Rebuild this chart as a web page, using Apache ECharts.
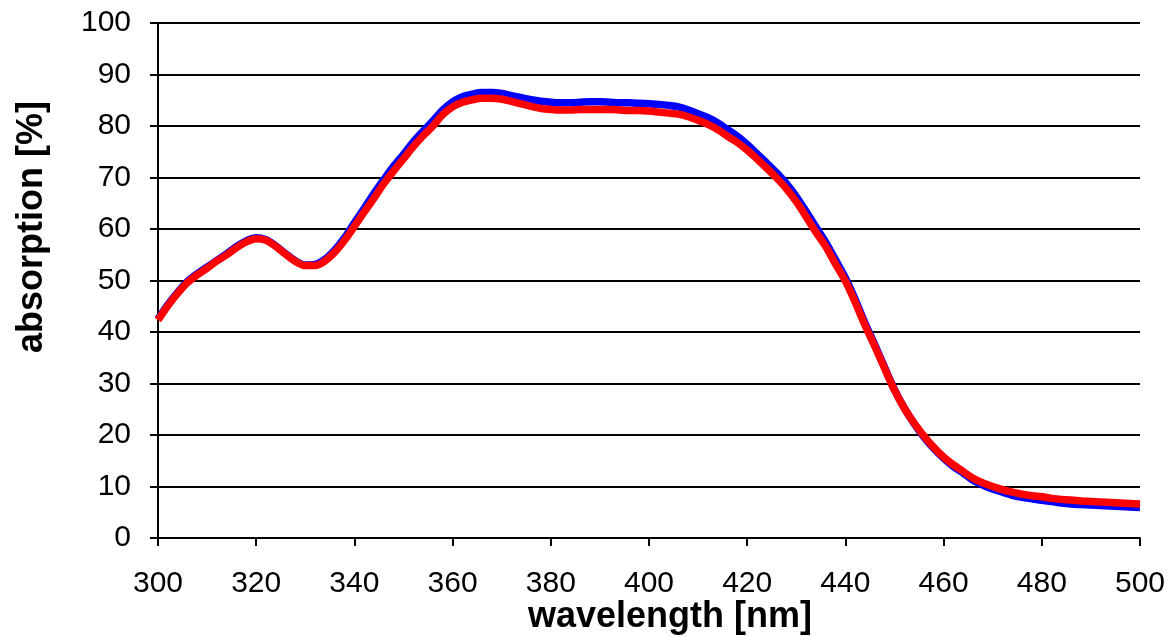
<!DOCTYPE html>
<html>
<head>
<meta charset="utf-8">
<script src="https://cdn.jsdelivr.net/npm/echarts@6/dist/echarts.min.js"></script>
<style>
  html, body { margin: 0; padding: 0; background: #fff; }
  #chart { width: 1170px; height: 637px; }
</style>
</head>
<body>
<div id="chart"></div>
<script>
// Wavelength grid [nm]
const wavelengths = [];
for (let w = 300; w <= 500; w += 2) wavelengths.push(w);

// Absorption [%] of the two measurements, one value per wavelength
const absorptionBlue = [
  42.5, 45.3, 47.7, 49.8, 51.3, 52.6, 53.9, 55.2, 56.6, 57.7,
  58.3, 57.9, 56.7, 55.2, 53.8, 53.0, 53.1, 54.1, 55.9, 58.3,
  61.2, 64.0, 66.9, 69.6, 72.2, 74.5, 76.9, 79.0, 81.0, 83.1,
  84.7, 85.7, 86.2, 86.5, 86.5, 86.3, 85.9, 85.5, 85.1, 84.8,
  84.6, 84.5, 84.5, 84.6, 84.7, 84.7, 84.6, 84.5, 84.5, 84.4,
  84.3, 84.2, 84.0, 83.7, 83.1, 82.4, 81.6, 80.6, 79.3, 78.0,
  76.4, 74.6, 72.8, 70.9, 68.8, 66.3, 63.4, 60.4, 57.4, 54.0,
  50.5, 46.3, 41.7, 37.5, 33.1, 28.8, 25.2, 22.2, 19.6, 17.4,
  15.5, 13.9, 12.6, 11.2, 10.3, 9.5, 8.9, 8.3, 7.9, 7.6,
  7.3, 7.1, 6.8, 6.6, 6.5, 6.4, 6.3, 6.2, 6.1, 6.0,
  5.9
];
const absorptionRed = [
  42.3, 45.1, 47.5, 49.6, 51.1, 52.4, 53.8, 55.0, 56.4, 57.5,
  58.1, 57.8, 56.6, 55.1, 53.7, 52.9, 52.9, 53.8, 55.5, 57.8,
  60.5, 63.3, 66.0, 68.8, 71.3, 73.6, 76.0, 78.1, 80.0, 82.2,
  83.7, 84.6, 85.1, 85.4, 85.4, 85.2, 84.8, 84.3, 83.8, 83.4,
  83.2, 83.1, 83.1, 83.2, 83.2, 83.2, 83.2, 83.1, 83.0, 83.0,
  82.9, 82.7, 82.5, 82.3, 81.8, 81.1, 80.3, 79.3, 78.0, 76.8,
  75.3, 73.6, 71.8, 69.9, 67.8, 65.3, 62.4, 59.4, 56.6, 53.2,
  49.9, 45.8, 41.3, 37.2, 32.9, 28.7, 25.2, 22.3, 19.8, 17.6,
  15.7, 14.2, 12.9, 11.6, 10.7, 10.0, 9.4, 8.9, 8.5, 8.2,
  8.0, 7.7, 7.5, 7.4, 7.2, 7.1, 7.0, 6.9, 6.8, 6.7,
  6.6
];

const FONT = '"Liberation Sans", Arial, sans-serif';
const pair = (vals) => wavelengths.map((w, i) => [w, vals[i]]);

const chart = echarts.init(document.getElementById('chart'), null, { renderer: 'canvas' });
chart.setOption({
  animation: false,
  backgroundColor: '#ffffff',
  grid: { left: 158, right: 30, top: 23, bottom: 99, containLabel: false },
  xAxis: {
    type: 'value', min: 300, max: 500, interval: 20,
    axisLine: { show: true, lineStyle: { color: '#000', width: 2 } },
    axisTick: { show: true, length: 8, lineStyle: { color: '#000', width: 2 } },
    splitLine: { show: false },
    axisLabel: { color: '#000', fontFamily: FONT, fontSize: 30, margin: 31 }
  },
  yAxis: {
    type: 'value', min: 0, max: 100, interval: 10,
    axisLine: { show: true, lineStyle: { color: '#000', width: 2 } },
    axisTick: { show: true, length: 8, lineStyle: { color: '#000', width: 2 } },
    splitLine: { show: true, lineStyle: { color: '#000', width: 2 } },
    axisLabel: { color: '#000', fontFamily: FONT, fontSize: 30, margin: 27 }
  },
  graphic: [
    {
      type: 'text', x: 670, y: 617,
      style: {
        text: 'wavelength [nm]', fill: '#000',
        font: 'bold 36px ' + FONT, align: 'center', verticalAlign: 'middle'
      }
    },
    {
      type: 'text', x: 32, y: 227, rotation: Math.PI / 2,
      style: {
        text: 'absorption [%]', fill: '#000',
        font: 'bold 36px ' + FONT, align: 'center', verticalAlign: 'middle'
      }
    }
  ],
  series: [
    {
      name: 'measurement 1', type: 'line', data: pair(absorptionBlue),
      showSymbol: false, smooth: 0.3,
      lineStyle: { color: '#0000ff', width: 7.5 }, itemStyle: { color: '#0000ff' }, z: 3
    },
    {
      name: 'measurement 2', type: 'line', data: pair(absorptionRed),
      showSymbol: false, smooth: 0.3,
      lineStyle: { color: '#ff0000', width: 7.5 }, itemStyle: { color: '#ff0000' }, z: 4
    }
  ]
});
</script>
</body>
</html>
